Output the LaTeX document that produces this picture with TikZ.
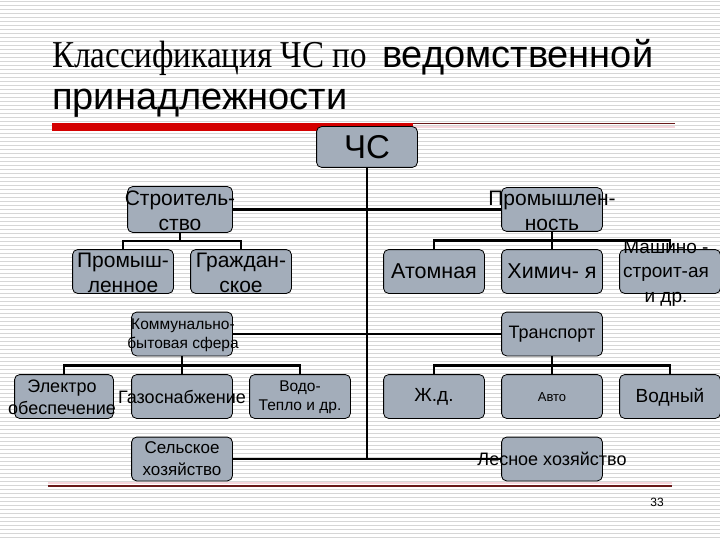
\documentclass[tikz,border=0pt]{standalone}
\usepackage{fontspec}
\setmainfont{Liberation Serif}
\setsansfont{Liberation Sans}
\usetikzlibrary{positioning,calc}
\definecolor{ink}{RGB}{0,0,0}
\definecolor{boxfill}{RGB}{163,173,186}
\definecolor{stripe}{RGB}{214,214,214}
\definecolor{barred}{RGB}{212,0,0}
\definecolor{rule}{RGB}{105,25,25}
\definecolor{paleline}{RGB}{246,214,220}
\tikzset{
  orgbox/.style={draw=ink, fill=boxfill, rounded corners=5pt, line width=0.8pt,
    minimum width=100pt, minimum height=43pt, inner sep=0pt},
  txt/.style={font=\sffamily, align=center, inner sep=0pt, text=ink},
  big/.style={txt, font=\sffamily\fontsize{21}{25}\selectfont},
  mid/.style={txt, font=\sffamily\fontsize{18}{22}\selectfont},
  small/.style={txt, font=\sffamily\fontsize{15.5}{19}\selectfont},
  link/.style={draw=ink, line width=2.5pt},
  title/.style={anchor=base west, inner sep=0pt, text=ink},
}

\begin{document}
\begin{tikzpicture}[x=1pt, y=-1pt]
  \useasboundingbox (0,0) rectangle (720,540);
  \fill[white] (0,0) rectangle (720,540);
  \foreach \k in {0,...,134}
    \draw[stripe, line width=1.3pt] (0,4*\k+1.5) -- (720,4*\k+1.5);

  % title and rules
  \node[title, font=\rmfamily\fontsize{38}{40}\selectfont] (ttlA) at (52,68) {\scalebox{0.87}[1]{Классификация ЧС по}};
  \node[title, font=\sffamily\fontsize{38}{40}\selectfont] (ttlB) at (382,68) {ведомственной};
  \node[title, font=\sffamily\fontsize{38}{40}\selectfont] (ttlC) at (52,110) {принадлежности};
  \fill[barred] (52,123) rectangle (413,131);
  \draw[rule, line width=1pt] (413,124) -- (675,124);
  \draw[paleline, line width=1.5pt] (413,127) -- (675,127);
  \draw[paleline, line width=1.5pt] (48,483) -- (672,483);
  \draw[rule, line width=1.2pt] (48,486) -- (672,486);

  % boxes
  \node[orgbox, minimum height=40pt] (chs) at (367,147) {};
  \node[orgbox, minimum width=104pt, minimum height=45pt] (stroy) at (180,209.5) {};
  \node[orgbox] (prom) at (552,209.5) {};
  \node[orgbox] (promL) at (123,271.5) {};
  \node[orgbox] (grazh) at (241,271.5) {};
  \node[orgbox] (atom) at (434,271.5) {};
  \node[orgbox] (chem) at (552,271.5) {};
  \node[orgbox] (mash) at (670,271.5) {};
  \node[orgbox] (komm) at (182,334) {};
  \node[orgbox] (trans) at (552,334) {};
  \node[orgbox, minimum width=98pt] (elec) at (64,396.5) {};
  \node[orgbox] (gas) at (182,396.5) {};
  \node[orgbox] (voda) at (300,396.5) {};
  \node[orgbox] (zhd) at (434,396.5) {};
  \node[orgbox] (avto) at (552,396.5) {};
  \node[orgbox] (vodn) at (670,396.5) {};
  \node[orgbox] (selsk) at (182,459) {};
  \node[orgbox] (les) at (552,459) {};

  % connectors
  \draw[link] (chs.south) -- (chs.south |- selsk.east);
  \draw[link] (stroy.east) -- (prom.west);
  \draw[link] (komm.east) -- (trans.west);
  \draw[link] (selsk.east) -- (les.west);
  \coordinate (busA) at ($(stroy.south)!0.5!(stroy.south |- promL.north)$);
  \coordinate (busB) at ($(prom.south)!0.5!(chem.north)$);
  \coordinate (busC) at ($(komm.south)!0.5!(gas.north)$);
  \coordinate (busD) at ($(trans.south)!0.5!(avto.north)$);
  \draw[link] (stroy.south) -- (busA);
  \draw[link] (promL.north) -- (promL.north |- busA) -- (grazh.north |- busA) -- (grazh.north);
  \draw[link] (prom.south) -- (chem.north);
  \draw[link] (atom.north) -- (atom.north |- busB) -- (mash.north |- busB) -- (mash.north);
  \draw[link] (komm.south) -- (gas.north);
  \draw[link] (elec.north) -- (elec.north |- busC) -- (voda.north |- busC) -- (voda.north);
  \draw[link] (trans.south) -- (avto.north);
  \draw[link] (zhd.north) -- (zhd.north |- busD) -- (vodn.north |- busD) -- (vodn.north);

  % redraw boxes over the lines
  \foreach \b in {chs,stroy,prom,promL,grazh,atom,chem,mash,komm,trans,elec,gas,voda,zhd,avto,vodn,selsk,les}
    \draw[orgbox] (\b.south west) rectangle (\b.north east);

  % texts
  \node[txt, font=\sffamily\fontsize{33}{36}\selectfont] (chsT) at (chs) {ЧС};
  \node[big] (stroyT) at (180,211) {Строитель-\\ство};
  \node[big] (promT) at (552,211) {Промышлен-\\ность};
  \node[big] (promLT) at (123,273) {Промыш-\\ленное};
  \node[big] (grazhT) at (241,273) {Граждан-\\ское};
  \node[big, font=\sffamily\fontsize{21.5}{25}\selectfont] (atomT) at (atom) {Атомная};
  \node[big, font=\sffamily\fontsize{21.5}{25}\selectfont] (chemT) at (chem) {Химич- я};
  \node[mid, font=\sffamily\fontsize{19}{24.5}\selectfont] (mashT) at (666,273) {Машино -\\строит-ая\\и др.};
  \node[small] (kommT) at (183,335) {Коммунально-\\бытовая сфера};
  \node[mid] (transT) at (trans) {Транспорт};
  \node[mid] (elecT) at (62,397) {Электро\\обеспечение};
  \node[mid] (gasT) at (182,397) {Газоснабжение};
  \node[small] (vodaT) at (300,397) {Водо-\\Тепло и др.};
  \node[mid, font=\sffamily\fontsize{19}{22}\selectfont] (zhdT) at (434,397) {Ж.д.};
  \node[txt, font=\sffamily\fontsize{13}{16}\selectfont] (avtoT) at (552,397) {Авто};
  \node[mid, font=\sffamily\fontsize{19}{22}\selectfont] (vodnT) at (670,397) {Водный};
  \node[mid, font=\sffamily\fontsize{17}{22}\selectfont] (selskT) at (182,459) {Сельское\\хозяйство};
  \node[mid] (lesT) at (552,459) {Лесное хозяйство};
  \node[txt, font=\sffamily\fontsize{12}{14}\selectfont] (pnum) at (657,502) {33};
\end{tikzpicture}
\end{document}
